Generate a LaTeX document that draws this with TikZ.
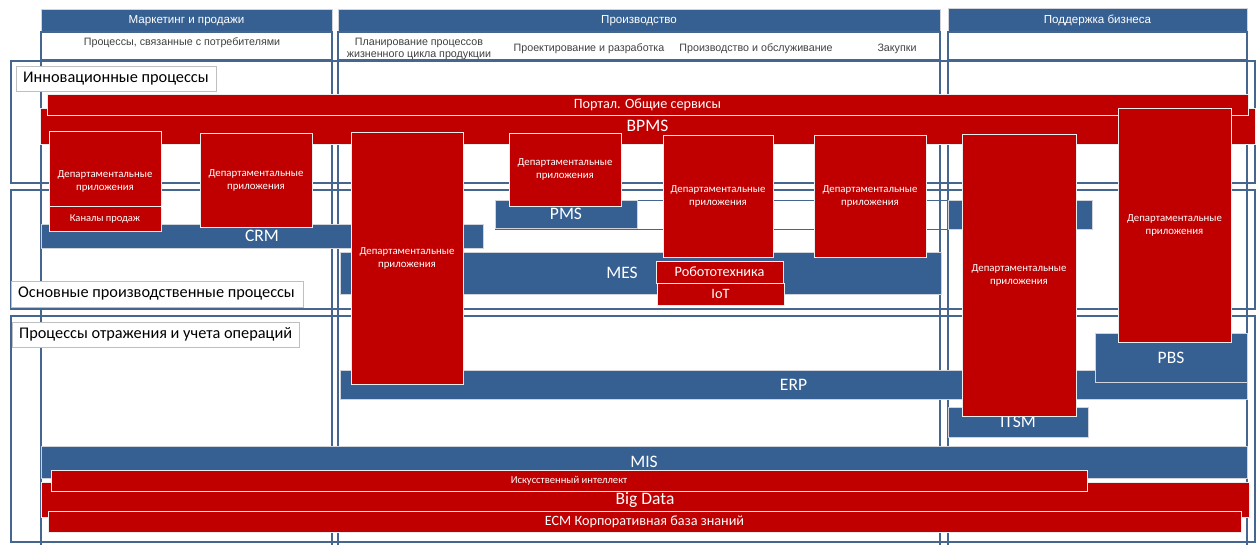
\documentclass[tikz,border=0pt]{standalone}
\usepackage{fontspec}
\setmainfont{Carlito}
\newfontfamily\arialf{Liberation Sans}
\definecolor{hdrblue}{HTML}{376092}
\definecolor{barblue}{HTML}{376092}
\definecolor{framec}{HTML}{45668F}
\definecolor{redfill}{HTML}{C00000}
\definecolor{redline}{HTML}{EDEDED}
\definecolor{barline}{HTML}{D0D4DA}
\definecolor{tagline}{HTML}{BFBFBF}
\definecolor{subtext}{HTML}{404040}

% block given by its corner coordinates: name, x1, y1, x2, y2, style, text
\newcommand\blk[7]{%
  \pgfmathsetmacro\blkw{#4-#2}%
  \pgfmathsetmacro\blkh{#5-#3}%
  \node[rectangle, inner sep=0pt, minimum width=\blkw pt, minimum height=\blkh pt, #6]
    (#1) at ({(#2+#4)/2},{(#3+#5)/2}) {#7};}

\tikzset{
  hdr/.style={fill=hdrblue, draw=barline, line width=0.6pt, text=white,
    font=\arialf\fontsize{11.6}{13}\selectfont},
  frame/.style={draw=framec, line width=1.3pt},
  thinframe/.style={draw=framec, line width=1pt},
  subtxt/.style={text=subtext, align=center, font=\arialf\fontsize{10.7}{12}\selectfont},
  bar/.style={fill=barblue, draw=barline, line width=0.8pt, text=white,
    font=\fontsize{17.5}{19}\selectfont},
  redbar/.style={fill=redfill, draw=redline, line width=1pt, text=white},
  dept/.style={redbar, align=center, font=\fontsize{10.8}{13}\selectfont},
  tagbox/.style={fill=white, draw=tagline, line width=0.9pt},
  tagtxt/.style={anchor=west, inner sep=0pt, font=\fontsize{16.3}{18}\selectfont},
}

\begin{document}
\begin{tikzpicture}[x=1pt,y=-1pt]
\useasboundingbox (0,0) rectangle (1258,544);

% column headers
\blk{hM}{41}{9}{332}{32}{hdr}{Маркетинг и продажи}
\blk{hP}{338}{9}{940}{32}{hdr}{Производство}
\blk{hS}{948}{8}{1247}{32}{hdr}{Поддержка бизнеса}

% column bodies and sub-headers
\blk{cM}{41}{32}{332}{550}{frame}{}
\blk{cP}{338}{32}{940}{550}{frame}{}
\blk{cS}{948}{32}{1247}{550}{frame}{}
\blk{sM}{41}{32}{332}{60}{frame}{}
\blk{sP}{338}{32}{940}{60}{frame}{}
\blk{sS}{948}{32}{1247}{60}{frame}{}

% process bands
\blk{bandI}{11}{61}{1255}{183}{frame}{}
\blk{bandM}{11}{190}{1255}{309}{frame}{}
\blk{bandA}{11}{316}{1255}{542}{frame}{}

% sub-header texts
\node[subtxt] (t1) at (182,43) {Процессы, связанные с потребителями};
\node[subtxt] (t2) at (419,49) {Планирование процессов\\жизненного цикла продукции};
\node[subtxt] (t3) at (589,49) {Проектирование и разработка};
\node[subtxt] (t4) at (756,49) {Производство и обслуживание};
\node[subtxt] (t5) at (897,49) {Закупки};

% information systems (blue)
\blk{crm}{41}{224}{483}{248}{bar}{CRM}
\blk{pmsF}{495}{200}{1092}{229}{thinframe}{}
\blk{pms}{495}{200}{637}{228}{bar}{PMS}
\blk{pmsR}{948}{200}{1092}{229}{bar}{}
\blk{mes}{340}{252}{941}{294}{bar}{}
\node[text=white, font=\fontsize{17.5}{19}\selectfont] (mesT) at (622,273) {MES};
\blk{erp}{340}{370}{1247}{399}{bar}{ERP}
\blk{pbs}{1095}{333}{1247}{382}{bar}{PBS}
\blk{itsm}{948}{407}{1088}{437}{bar}{ITSM}
\blk{mis}{41}{446}{1247}{478}{bar}{MIS}

% shared services (red)
\blk{bpms}{40}{108}{1255}{144}{redbar, font=\fontsize{17.5}{19}\selectfont}{BPMS}
\blk{portal}{47}{94}{1248}{115}{redbar, font=\fontsize{14.2}{16}\selectfont}{Портал. Общие сервисы}

% departmental applications
\blk{d1}{49}{131}{161}{231}{dept}{Департаментальные\\приложения}
\blk{sales}{49}{206}{161}{231}{redbar, font=\fontsize{10.5}{12}\selectfont}{Каналы продаж}
\blk{d2}{200}{133}{312}{227}{dept}{Департаментальные\\приложения}
\blk{d3}{351}{132}{463}{384}{dept}{Департаментальные\\приложения}
\blk{d4}{509}{133}{621}{206}{dept}{Департаментальные\\приложения}
\blk{d5}{663}{135}{773}{257}{dept}{Департаментальные\\приложения}
\blk{d6}{814}{135}{926}{257}{dept}{Департаментальные\\приложения}
\blk{d7}{962}{134}{1076}{416}{dept}{Департаментальные\\приложения}
\blk{d8}{1118}{108}{1231}{342}{dept}{Департаментальные\\приложения}

\blk{robo}{656}{261}{783}{283}{redbar, font=\fontsize{14.3}{16}\selectfont}{Робототехника}
\blk{iot}{657}{283}{784}{305}{redbar, font=\fontsize{14.3}{16}\selectfont}{IoT}

% data layer
\blk{bigdata}{41}{482}{1249}{517}{redbar, font=\fontsize{17.5}{19}\selectfont}{Big Data}
\blk{ai}{51}{470}{1087}{491}{redbar, font=\fontsize{10.6}{12}\selectfont}{Искусственный интеллект}
\blk{ecm}{48}{511}{1241}{532}{redbar, font=\fontsize{14.2}{16}\selectfont}{ECM Корпоративная база знаний}

% band captions
\blk{lI}{16}{66}{216}{91}{tagbox}{}
\node[tagtxt] (lIT) at (23,78.5) {Инновационные процессы};
\blk{lM}{11}{281}{303}{307}{tagbox}{}
\node[tagtxt] (lMT) at (18,294) {Основные производственные процессы};
\blk{lA}{12}{322}{299}{347}{tagbox}{}
\node[tagtxt] (lAT) at (19,334.5) {Процессы отражения и учета операций};
\end{tikzpicture}
\end{document}
